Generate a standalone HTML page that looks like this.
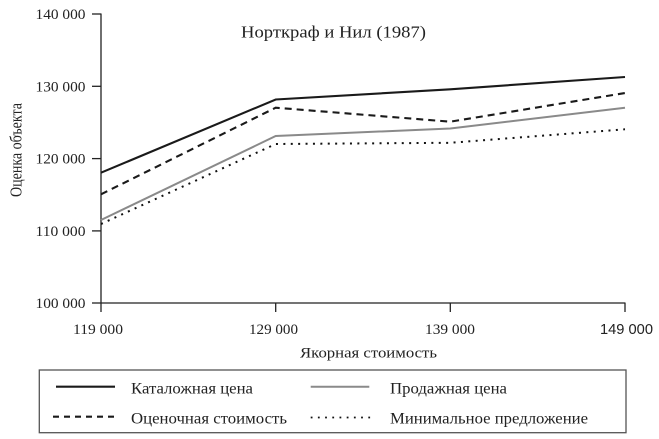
<!DOCTYPE html>
<html><head><meta charset="utf-8"><style>
html,body{margin:0;padding:0;background:#fff;}
svg{display:block;}
text{font-family:"Liberation Serif",serif;fill:#222;}
</style></head><body>
<svg width="659" height="439" viewBox="0 0 659 439" xmlns="http://www.w3.org/2000/svg">
<!-- title -->
<text x="241" y="37.3" font-size="17" textLength="185" lengthAdjust="spacingAndGlyphs">Норткраф и Нил (1987)</text>

<!-- axes -->
<line x1="101" y1="13.5" x2="101" y2="303.5" stroke="#222" stroke-width="1.3"/>
<line x1="100.5" y1="303" x2="625.5" y2="303" stroke="#222" stroke-width="1.3"/>
<!-- ticks -->
<g stroke="#222" stroke-width="1.3">
<line x1="92" y1="14" x2="101" y2="14"/>
<line x1="92" y1="86.3" x2="101" y2="86.3"/>
<line x1="92" y1="158.6" x2="101" y2="158.6"/>
<line x1="92" y1="230.9" x2="101" y2="230.9"/>
<line x1="92" y1="303" x2="101" y2="303"/>
<line x1="101" y1="303" x2="101" y2="312"/>
<line x1="275.7" y1="303" x2="275.7" y2="312"/>
<line x1="450.3" y1="303" x2="450.3" y2="312"/>
<line x1="625" y1="303" x2="625" y2="312"/>
</g>
<g font-size="15" text-anchor="end">
<text x="85.5" y="19" textLength="50" lengthAdjust="spacingAndGlyphs">140 000</text>
<text x="85.5" y="91.3" textLength="50" lengthAdjust="spacingAndGlyphs">130 000</text>
<text x="85.5" y="163.6" textLength="50" lengthAdjust="spacingAndGlyphs">120 000</text>
<text x="85.5" y="235.9" textLength="50" lengthAdjust="spacingAndGlyphs">110 000</text>
<text x="85.5" y="308" textLength="50" lengthAdjust="spacingAndGlyphs">100 000</text>
</g>
<g font-size="15">
<text x="73" y="334" textLength="50" lengthAdjust="spacingAndGlyphs">119 000</text>
<text x="249" y="334" textLength="49" lengthAdjust="spacingAndGlyphs">129 000</text>
<text x="425" y="334" textLength="50" lengthAdjust="spacingAndGlyphs">139 000</text>
<text x="600" y="334" textLength="53" lengthAdjust="spacingAndGlyphs" style="font-family:'Liberation Sans',sans-serif">149 000</text>
</g>
<text x="300" y="357.3" font-size="15" textLength="137" lengthAdjust="spacingAndGlyphs">Якорная стоимость</text>
<text transform="translate(21.5,197) rotate(-90)" x="0" y="0" font-size="17" textLength="94" lengthAdjust="spacingAndGlyphs">Оценка объекта</text>

<!-- series -->
<polyline fill="none" stroke="#8a8a8a" stroke-width="2" points="101,220 275.7,136 450.3,128.5 625,107.7"/>
<polyline fill="none" stroke="#111" stroke-width="2" stroke-dasharray="2 5.4" points="101,224 275.7,144 450.3,142.8 625,129.3"/>
<polyline fill="none" stroke="#1a1a1a" stroke-width="2.1" stroke-dasharray="7 5" points="101,194.3 275.7,107.7 450.3,121.7 625,93"/>
<polyline fill="none" stroke="#1a1a1a" stroke-width="2.1" points="101,172.7 275.7,99.5 450.3,89.3 625,77"/>

<!-- legend -->
<rect x="39.3" y="370" width="586.7" height="62.7" fill="none" stroke="#555" stroke-width="1.3"/>
<line x1="56" y1="386.7" x2="115" y2="386.7" stroke="#1a1a1a" stroke-width="2.1"/>
<line x1="53" y1="416.7" x2="116" y2="416.7" stroke="#1a1a1a" stroke-width="2.1" stroke-dasharray="6 5"/>
<line x1="310.7" y1="386.7" x2="369.3" y2="386.7" stroke="#8a8a8a" stroke-width="2"/>
<line x1="310.7" y1="417.5" x2="371" y2="417.5" stroke="#111" stroke-width="1.8" stroke-dasharray="1.8 5.4"/>
<g font-size="16">
<text x="131" y="393.3" textLength="122" lengthAdjust="spacingAndGlyphs">Каталожная цена</text>
<text x="131" y="423.3" textLength="156" lengthAdjust="spacingAndGlyphs">Оценочная стоимость</text>
<text x="390" y="393.3" textLength="117" lengthAdjust="spacingAndGlyphs">Продажная цена</text>
<text x="390" y="423.3" textLength="198" lengthAdjust="spacingAndGlyphs">Минимальное предложение</text>
</g>
</svg>
</body></html>
